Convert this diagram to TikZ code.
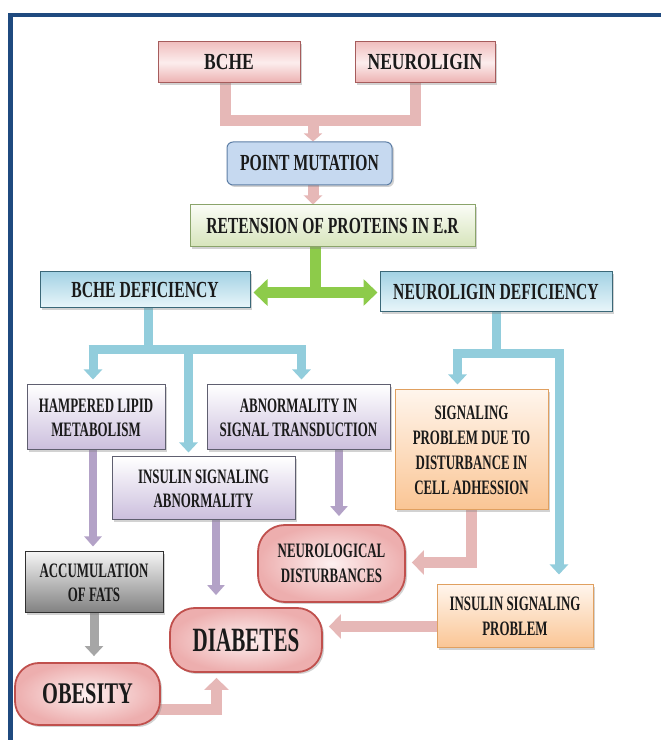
\documentclass[tikz,border=0pt]{standalone}
\usepackage{fontspec}
\setmainfont{Liberation Serif}
\newfontfamily\ftop[FakeStretch=0.76]{Liberation Serif}
\newfontfamily\fmid[FakeStretch=0.68]{Liberation Serif}
\newfontfamily\fsml[FakeStretch=0.63]{Liberation Serif}
\newfontfamily\fdia[FakeStretch=0.62]{Liberation Serif}
\newfontfamily\fobe[FakeStretch=0.68]{Liberation Serif}
\usetikzlibrary{arrows.meta,shadows,calc}
\pgfdeclarelayer{bg}
\pgfsetlayers{bg,main}
\definecolor{framec}{HTML}{1F4A7F}
\definecolor{txt}{HTML}{1A1A1A}
\definecolor{pinkL}{HTML}{E6B8B7}
\definecolor{blueL}{HTML}{92CDDC}
\definecolor{greenL}{HTML}{8DCB4A}
\definecolor{purL}{HTML}{B3A2C7}
\definecolor{grayL}{HTML}{A6A6A6}
\definecolor{pkTop}{HTML}{F0BFBF}
\definecolor{pkMid}{HTML}{FCEDED}
\definecolor{pkBot}{HTML}{ECB0B0}
\definecolor{pkBd}{HTML}{A65C5C}
\definecolor{pmFill}{HTML}{C6D9F0}
\definecolor{pmBd}{HTML}{5E7FA6}
\definecolor{rtTop}{HTML}{FAFCF6}
\definecolor{rtBot}{HTML}{D6E4BA}
\definecolor{rtBd}{HTML}{8AA46A}
\definecolor{dfTop}{HTML}{A3D2E4}
\definecolor{dfBot}{HTML}{EAF6FA}
\definecolor{dfBd}{HTML}{3B6878}
\definecolor{puTop}{HTML}{FFFFFF}
\definecolor{puBot}{HTML}{CBBEDD}
\definecolor{puBd}{HTML}{5F5F70}
\definecolor{orTop}{HTML}{FFF5EC}
\definecolor{orBot}{HTML}{FAC594}
\definecolor{orBd}{HTML}{E0A060}
\definecolor{gyTop}{HTML}{F4F4F4}
\definecolor{gyBot}{HTML}{808080}
\definecolor{gyBd}{HTML}{303030}
\definecolor{rpIn}{HTML}{FDF0F0}
\definecolor{rpOut}{HTML}{EDAEAE}
\definecolor{rpBd}{HTML}{C0504D}
\begin{document}
\begin{tikzpicture}[x=1pt,y=1pt,
  box/.style={draw, line width=1pt, inner sep=0pt, align=center, text=txt,
    drop shadow={shadow xshift=2pt,shadow yshift=-2pt,opacity=0.35}},
  pinkbox/.style={box, draw=pkBd, top color=pkTop, bottom color=pkBot, middle color=pkMid,
    font=\ftop\bfseries\fontsize{23}{26}\selectfont},
  pmbox/.style={box, draw=pmBd, fill=pmFill, rounded corners=6pt,
    font=\fmid\bfseries\fontsize{23}{26}\selectfont},
  retbox/.style={box, draw=rtBd, top color=rtTop, bottom color=rtBot,
    font=\fmid\bfseries\fontsize{23}{26}\selectfont},
  defbox/.style={box, draw=dfBd, top color=dfTop, bottom color=dfBot,
    font=\fmid\bfseries\fontsize{23}{26}\selectfont},
  purbox/.style={box, draw=puBd, top color=puTop, bottom color=puBot,
    font=\fsml\bfseries\fontsize{20.5}{24}\selectfont},
  orbox/.style={box, draw=orBd, top color=orTop, bottom color=orBot,
    font=\fsml\bfseries\fontsize{20.5}{25}\selectfont},
  graybox/.style={box, draw=gyBd, top color=gyTop, bottom color=gyBot,
    font=\fsml\bfseries\fontsize{20.5}{24}\selectfont},
  roundpink/.style={box, draw=rpBd, line width=1.8pt, shading=radial, inner color=rpIn, outer color=rpOut},
  pinkc/.style={draw=pinkL, line width=11pt, line join=miter},
  pinka/.style={pinkc, -{Triangle[width=24pt,length=12pt]}},
  bluec/.style={draw=blueL, line width=9pt, line join=miter},
  bluea/.style={bluec, -{Triangle[width=18pt,length=10pt]}},
  greena/.style={draw=greenL, line width=11pt, {Triangle[width=26pt,length=14pt]}-{Triangle[width=26pt,length=14pt]}},
  greenc/.style={draw=greenL, line width=11pt},
  purpa/.style={draw=purL, line width=8pt, -{Triangle[width=17pt,length=10pt]}},
  graya/.style={draw=grayL, line width=9pt, -{Triangle[width=18pt,length=10pt]}}
]
\useasboundingbox (0,0) rectangle (661,740);

% nodes
\node[pinkbox, minimum width=142pt, minimum height=41pt] (bche) at (229,677.5) {BCHE};
\node[pinkbox, minimum width=140pt, minimum height=41pt] (neur) at (425,677.5) {NEUROLIGIN};
\node[pmbox, minimum width=165pt, minimum height=43pt] (pm) at (309.5,576.5) {POINT MUTATION};
\node[retbox, minimum width=285pt, minimum height=42pt] (ret) at (332.5,514) {RETENSION OF PROTEINS IN E.R};
\node[defbox, minimum width=210pt, minimum height=36pt] (bd) at (145,450) {BCHE DEFICIENCY};
\node[defbox, minimum width=232pt, minimum height=40pt] (nd) at (496,448) {NEUROLIGIN DEFICIENCY};
\node[purbox, minimum width=138pt, minimum height=65pt] (ham) at (96,322.5) {HAMPERED LIPID\\METABOLISM};
\node[purbox, minimum width=183pt, minimum height=65pt] (abn) at (298.5,322.5) {ABNORMALITY IN\\SIGNAL TRANSDUCTION};
\node[purbox, minimum width=183pt, minimum height=63pt] (isa) at (203.5,251.5) {INSULIN SIGNALING\\ABNORMALITY};
\node[orbox, minimum width=153pt, minimum height=120pt] (sig) at (471.5,290) {SIGNALING\\PROBLEM DUE TO\\DISTURBANCE IN\\CELL ADHESSION};
\node[graybox, minimum width=138pt, minimum height=61pt] (acc) at (94,157.5) {ACCUMULATION\\OF FATS};
\node[roundpink, rounded corners=27pt, minimum width=147pt, minimum height=77pt,
  font=\fsml\bfseries\fontsize{20.5}{25}\selectfont] (neuro) at (331.5,176.5) {NEUROLOGICAL\\DISTURBANCES};
\node[orbox, minimum width=156pt, minimum height=63pt] (isp) at (515,123.5) {INSULIN SIGNALING\\PROBLEM};
\node[roundpink, rounded corners=25pt, minimum width=152pt, minimum height=64pt,
  font=\fdia\bfseries\fontsize{34}{36}\selectfont] (dia) at (246,100) {DIABETES};
\node[roundpink, rounded corners=24pt, minimum width=145pt, minimum height=62pt,
  font=\fobe\bfseries\fontsize{30}{34}\selectfont] (ob) at (87.5,46) {OBESITY};

\begin{pgfonlayer}{bg}
\fill[white] (0,0) rectangle (661,740);
\draw[framec, line width=4.5pt, line join=miter] (10.5,0) -- (10.5,725) -- (661,725);
% pink top connector
\coordinate (pt) at (313,619);
\draw[pinkc] (bche.south -| 225,0) -- (225,619) -- (415,619) -- (neur.south -| 415,0);
\draw[pinka, -{Triangle[width=18pt,length=8pt]}] (pt) -- (pt |- pm.north);
\coordinate (pmr) at (313,560);
\draw[pinka, -{Triangle[width=18pt,length=9pt]}] (pmr |- pm.south) -- (pmr |- ret.north);
% green
\coordinate (gj) at (315,447.5);
\draw[greenc] (gj |- ret.south) -- ($(gj)+(0,-5)$);
\draw[greena, shorten <=3pt, shorten >=2pt] (bd.east |- gj) -- (nd.west |- gj);
% blue left
\coordinate (bl) at (148.5,390);
\draw[bluec] (bl |- bd.south) -- (bl);
\draw[bluec] (88.5,390) -- (306,390);
\coordinate (b1) at (93,394);
\coordinate (b2) at (188.5,394);
\coordinate (b3) at (301.5,394);
\draw[bluea, shorten >=5pt] (b1) -- (b1 |- ham.north);
\draw[bluea, shorten >=4pt] (b2) -- (b2 |- isa.north);
\draw[bluea, shorten >=5pt] (b3) -- (b3 |- abn.north);
% blue right
\coordinate (br) at (496,386);
\draw[bluec] (br |- nd.south) -- (br);
\draw[bluec] (453,386) -- (563.5,386);
\coordinate (b4) at (457.5,390);
\coordinate (b5) at (559,390);
\draw[bluea, shorten >=5pt] (b4) -- (b4 |- sig.north);
\draw[bluea, shorten >=10pt] (b5) -- (b5 |- isp.north);
% purple
\coordinate (p1) at (93,300);
\coordinate (p2) at (216,300);
\coordinate (p3) at (339,300);
\draw[purpa, shorten >=5pt] (p1 |- ham.south) -- (p1 |- acc.north);
\draw[purpa, shorten >=12pt] (p2 |- isa.south) -- (p2 |- dia.north);
\draw[purpa, shorten >=8pt] (p3 |- abn.south) -- (p3 |- neuro.north);
% gray
\draw[graya, shorten >=6pt] (acc.south) -- (acc.south |- ob.north);
% pink lower
\coordinate (sj) at (471.5,177.5);
\draw[pinka, shorten >=6pt] (sig.south) -- (sj) -- (sj -| neuro.east);
\coordinate (ij) at (440,113.5);
\draw[pinka, shorten >=6pt] (ij) -- (ij -| dia.east);
\coordinate (oj) at (216.5,30);
\draw[pinka, shorten >=5pt] (155,30) -- (oj) -- (oj |- dia.south);
\end{pgfonlayer}
\end{tikzpicture}
\end{document}
